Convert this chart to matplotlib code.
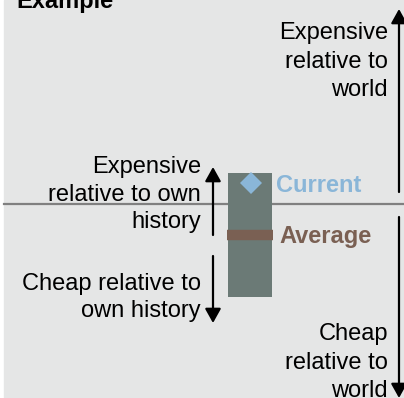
import matplotlib.pyplot as plt

plt.rcParams['font.family'] = ['Liberation Sans', 'DejaVu Sans']

# valuation example (world level = 0, units arbitrary)
own_range = [-93, 31]     # low, high of own history
current = 21
average = -31
bar_x = 250

title = 'Example'
lbl_current = 'Current'
lbl_average = 'Average'
txt_exp_world = 'Expensive\nrelative to\nworld'
txt_cheap_world = 'Cheap\nrelative to\nworld'
txt_exp_own = 'Expensive\nrelative to own\nhistory'
txt_cheap_own = 'Cheap relative to\nown history'

bg = '#e5e6e6'
c_bar = '#6b7a76'
c_cur = '#8ab6d8'
c_avg = '#7a6053'

fig = plt.figure(figsize=(4.04, 3.98), dpi=100)
ax = fig.add_axes([0, 0, 1, 1])
ax.set_xlim(0, 404)
ax.set_ylim(-194, 204)
ax.axis('off')

ax.axvspan(4, 404, color=bg, zorder=0)
ax.axhline(0, xmin=4/404, xmax=1, color='#808080', lw=1.6, zorder=1)

# own history range
ax.bar(bar_x, own_range[1] - own_range[0], bottom=own_range[0], width=44,
       color=c_bar, zorder=2)
ax.plot([bar_x - 23, bar_x + 23], [average, average], color=c_avg, lw=7.5,
        solid_capstyle='butt', zorder=3)
ax.plot(bar_x + 1, current, marker='D', ms=11.5, mew=0, color=c_cur, zorder=4)

fs = 17
ax.text(276, 12, lbl_current, color=c_cur, fontsize=fs, fontweight='bold',
        va='baseline', ha='left')
ax.text(279, -39, lbl_average, color=c_avg, fontsize=fs, fontweight='bold',
        va='baseline', ha='left')

ax.text(16, 196, title, fontsize=fs, fontweight='bold', va='baseline')

# multi-line texts: y is baseline of the last line
ax.text(388, 108, txt_exp_world, fontsize=fs, ha='right', va='baseline',
        linespacing=1.38)
ax.text(388, -193, txt_cheap_world, fontsize=fs, ha='right', va='baseline',
        linespacing=1.38)
ax.text(201, -24, txt_exp_own, fontsize=fs, ha='right', va='baseline',
        linespacing=1.32)
ax.text(201, -113, txt_cheap_own, fontsize=fs, ha='right', va='baseline',
        linespacing=1.32)

aprops = dict(arrowstyle='-|>,head_length=0.43,head_width=0.24',
              mutation_scale=20, lw=1.6, color='black', shrinkA=0, shrinkB=0)
ax.annotate('', xy=(213, 37), xytext=(213, -31), arrowprops=aprops)
ax.annotate('', xy=(213, -119), xytext=(213, -52), arrowprops=aprops)
ax.annotate('', xy=(399, 195), xytext=(399, 12), arrowprops=aprops)
ax.annotate('', xy=(399, -194), xytext=(399, -13), arrowprops=aprops)

fig.savefig('out.png', dpi=100)
